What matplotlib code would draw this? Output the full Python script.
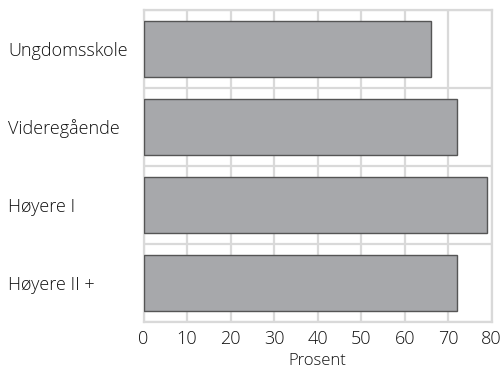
import numpy as np
import matplotlib as mpl
mpl.use("Agg")

import matplotlib.pyplot as plt

mpl.rcParams.update({'font.size': 13, 'font.family': ['Open Sans', 'DejaVu Sans'],
                     'font.weight': 'light', 'axes.labelweight': 'light'})

categories = ["Ungdomsskole", "Videregående", "Høyere I", "Høyere II +"]
values     = [66, 72, 79, 72]
xticks     = [0, 10, 20, 30, 40, 50, 60, 70, 80]

grid_col = '#d9d9d9'
text_col = '#111111'

fig = plt.figure(figsize=(5.03, 3.71), dpi=100)
ax = fig.add_axes([0.2853, 0.132, 0.6922, 0.841])

y = np.arange(len(categories))
ax.barh(y, values, height=0.72, color='#a7a8ab', edgecolor='#555555', linewidth=1.0, zorder=3)

ax.set_xlim(0, 80)
ax.set_ylim(len(categories) - 0.5, -0.5)
ax.set_xticks(xticks)
ax.set_yticks(y)
ax.set_yticklabels(categories, ha='left', color=text_col)
ax.set_yticks(np.arange(len(categories) + 1) - 0.5, minor=True)

ax.grid(axis='x', which='major', color=grid_col, linewidth=1.6, zorder=0)
ax.grid(axis='y', which='minor', color=grid_col, linewidth=1.6, zorder=0)
ax.tick_params(axis='y', which='both', length=0, pad=97.5)
ax.tick_params(axis='x', length=0, pad=6, labelcolor=text_col, labelsize=13)

for s in ax.spines.values():
    s.set_color(grid_col)
    s.set_linewidth(1.6)

ax.set_xlabel('Prosent', color=text_col, labelpad=3, fontsize=12)

plt.savefig("out.png")
